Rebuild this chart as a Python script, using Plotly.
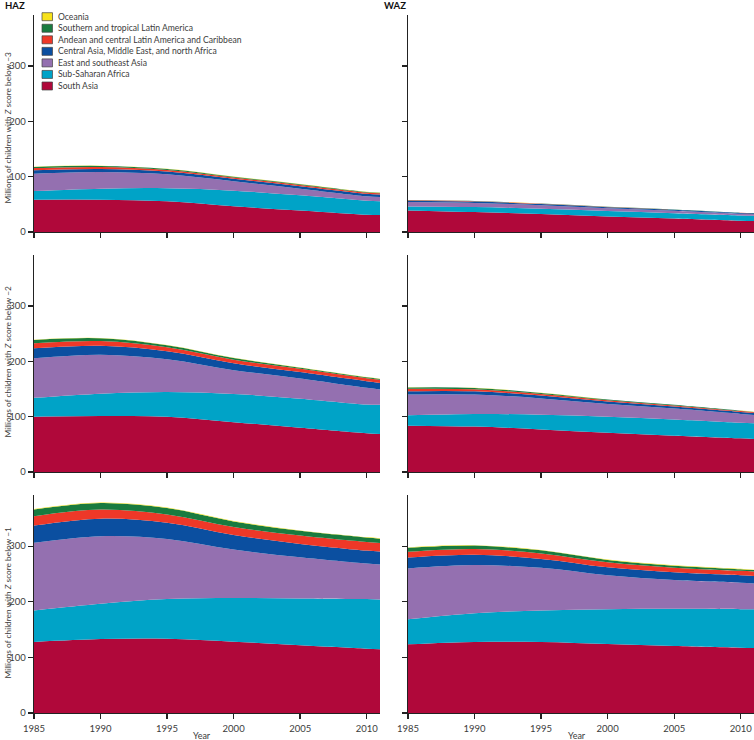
import plotly.graph_objects as go

YEARS = [1985, 1990, 1995, 2000, 2005, 2010, 2011]

REGIONS = [
    "South Asia",
    "Sub-Saharan Africa",
    "East and southeast Asia",
    "Central Asia, Middle East, and north Africa",
    "Andean and central Latin America and Caribbean",
    "Southern and tropical Latin America",
    "Oceania",
]
COLORS = ["#B0083A", "#00A3C7", "#9470B0", "#0B4FA0", "#EE3828", "#197B3F", "#F7E21B"]

# Millions of children, by region (stacking order bottom -> top)
haz_below3 = {
    "South Asia": [58.4, 58.4, 55.4, 46.4, 39.0, 31.3, 30.7],
    "Sub-Saharan Africa": [15.6, 19.9, 23.6, 28.3, 27.3, 25.3, 24.7],
    "East and southeast Asia": [31.4, 30.1, 25.2, 16.9, 12.0, 7.9, 7.9],
    "Central Asia, Middle East, and north Africa": [6.0, 5.5, 5.0, 4.5, 4.5, 4.5, 4.4],
    "Andean and central Latin America and Caribbean": [4.0, 3.6, 3.0, 2.5, 2.3, 2.3, 2.3],
    "Southern and tropical Latin America": [2.2, 1.9, 1.7, 1.3, 1.2, 1.1, 1.1],
    "Oceania": [0.4, 0.4, 0.3, 0.3, 0.3, 0.2, 0.2],
}
waz_below3 = {
    "South Asia": [39.0, 36.0, 32.5, 28.0, 24.5, 20.5, 20.0],
    "Sub-Saharan Africa": [7.0, 9.0, 9.5, 10.0, 9.5, 9.5, 9.5],
    "East and southeast Asia": [8.0, 7.5, 6.5, 5.0, 4.5, 3.0, 3.0],
    "Central Asia, Middle East, and north Africa": [2.5, 2.5, 2.0, 1.8, 1.5, 1.3, 1.2],
    "Andean and central Latin America and Caribbean": [0.7, 0.6, 0.5, 0.4, 0.3, 0.3, 0.3],
    "Southern and tropical Latin America": [0.4, 0.4, 0.3, 0.3, 0.3, 0.2, 0.2],
    "Oceania": [0.1, 0.1, 0.1, 0.1, 0.1, 0.1, 0.1],
}
haz_below2 = {
    "South Asia": [100.0, 101.0, 100.0, 90.0, 80.0, 70.0, 68.7],
    "Sub-Saharan Africa": [34.0, 40.5, 44.6, 51.0, 52.5, 52.0, 53.0],
    "East and southeast Asia": [71.4, 70.5, 59.0, 43.0, 36.5, 30.0, 27.3],
    "Central Asia, Middle East, and north Africa": [18.0, 16.0, 14.5, 12.5, 11.5, 12.0, 12.0],
    "Andean and central Latin America and Caribbean": [9.0, 8.5, 7.2, 6.5, 6.0, 5.5, 5.5],
    "Southern and tropical Latin America": [6.0, 5.0, 3.5, 2.8, 2.0, 1.7, 1.5],
    "Oceania": [0.5, 0.5, 0.5, 0.4, 0.4, 0.4, 0.4],
}
waz_below2 = {
    "South Asia": [83.7, 82.0, 77.0, 71.0, 65.7, 60.8, 59.6],
    "Sub-Saharan Africa": [18.7, 22.8, 26.6, 29.0, 29.3, 28.2, 28.4],
    "East and southeast Asia": [37.6, 35.2, 29.4, 23.0, 19.5, 16.0, 15.0],
    "Central Asia, Middle East, and north Africa": [6.0, 5.8, 5.0, 4.2, 3.8, 3.6, 3.6],
    "Andean and central Latin America and Caribbean": [4.2, 3.6, 3.0, 2.5, 2.0, 1.5, 1.4],
    "Southern and tropical Latin America": [2.4, 2.4, 1.8, 1.2, 1.0, 0.6, 0.6],
    "Oceania": [0.3, 0.3, 0.3, 0.2, 0.2, 0.2, 0.2],
}
haz_below1 = {
    "South Asia": [127.7, 133.0, 133.7, 128.3, 121.7, 115.7, 114.5],
    "Sub-Saharan Africa": [56.6, 63.4, 71.1, 78.3, 84.3, 89.1, 89.7],
    "East and southeast Asia": [121.7, 121.6, 108.2, 87.4, 74.0, 63.9, 62.8],
    "Central Asia, Middle East, and north Africa": [31.0, 31.4, 29.0, 26.0, 24.0, 23.3, 23.4],
    "Andean and central Latin America and Caribbean": [17.0, 16.6, 15.0, 14.5, 15.0, 15.5, 15.5],
    "Southern and tropical Latin America": [12.0, 11.7, 11.5, 10.0, 8.5, 8.0, 7.5],
    "Oceania": [1.0, 1.0, 1.0, 0.8, 0.8, 0.8, 0.8],
}
waz_below1 = {
    "South Asia": [123.5, 127.7, 127.7, 124.0, 120.5, 117.5, 117.0],
    "Sub-Saharan Africa": [45.2, 51.8, 56.6, 62.7, 66.8, 69.2, 69.7],
    "East and southeast Asia": [91.3, 86.5, 76.7, 60.9, 51.7, 47.6, 46.3],
    "Central Asia, Middle East, and north Africa": [19.5, 18.5, 16.0, 14.4, 14.0, 13.3, 13.4],
    "Andean and central Latin America and Caribbean": [10.5, 10.5, 10.0, 9.0, 8.4, 8.0, 8.0],
    "Southern and tropical Latin America": [7.0, 6.0, 5.5, 4.3, 3.6, 3.0, 2.6],
    "Oceania": [0.8, 0.8, 0.8, 0.7, 0.7, 0.7, 0.7],
}

Y_TICKS = [0, 100, 200, 300]
X_TICKS = [1985, 1990, 1995, 2000, 2005, 2010]
THRESHOLDS = ["−3", "−2", "−1"]

panels = [
    (haz_below3, 1, 1), (waz_below3, 1, 2),
    (haz_below2, 2, 1), (waz_below2, 2, 2),
    (haz_below1, 3, 1), (waz_below1, 3, 2),
]

# layout geometry (pixels)
W, H = 754, 740
ML, MR, MT, MB = 34, 0, 15, 27
PW, PH = W - ML - MR, H - MT - MB
xdom = {1: [0, 346 / PW], 2: [374 / PW, 1]}
ydom = {1: [(713 - 232) / PH, 1], 2: [(713 - 472) / PH, (713 - 255) / PH], 3: [0, (713 - 495) / PH]}

def px_x(p):
    return (p - ML) / PW

def px_y(p):
    return (H - MB - p) / PH

FONT = "Lato, 'Noto Sans', sans-serif"
TXT = "#3c3c3c"
AX = "#222222"

fig = go.Figure()
layout = {}
for data, row, col in panels:
    i = (row - 1) * 2 + col
    xa = "x" if i == 1 else f"x{i}"
    ya = "y" if i == 1 else f"y{i}"
    for name, color in zip(REGIONS, COLORS):
        fig.add_trace(go.Scatter(
            x=YEARS, y=data[name], name=name, xaxis=xa, yaxis=ya,
            stackgroup=f"g{i}", mode="lines",
            line=dict(width=0, shape="spline", smoothing=1.0, color=color),
            fillcolor=color, showlegend=False, hoverinfo="skip",
        ))
    layout[f"xaxis{'' if i == 1 else i}"] = dict(
        domain=xdom[col], anchor=ya, range=[1985, 2011],
        tickvals=X_TICKS, showticklabels=(row == 3),
        showline=True, linecolor=AX, linewidth=1.4,
        ticks="outside", ticklen=5, tickwidth=1.3, tickcolor=AX,
        ticklabelstandoff=1,
        showgrid=False, zeroline=False,
        tickfont=dict(family=FONT, size=9.5, color=TXT),
    )
    layout[f"yaxis{'' if i == 1 else i}"] = dict(
        domain=ydom[row], anchor=xa, range=[0, 392],
        tickvals=Y_TICKS, showticklabels=(col == 1),
        showline=True, linecolor=AX, linewidth=1.4,
        ticks="outside", ticklen=5, tickwidth=1.3, tickcolor=AX,
        showgrid=False, zeroline=False,
        tickfont=dict(family=FONT, size=9.5, color=TXT),
    )

annotations = []
shapes = []
# panel headers
annotations.append(dict(text="<b>HAZ</b>", x=px_x(3), y=px_y(5), xref="paper", yref="paper",
                        xanchor="left", yanchor="middle", showarrow=False,
                        font=dict(family=FONT, size=9.5, color="#111")))
annotations.append(dict(text="<b>WAZ</b>", x=px_x(382), y=px_y(5), xref="paper", yref="paper",
                        xanchor="left", yanchor="middle", showarrow=False,
                        font=dict(family=FONT, size=9.5, color="#111")))
# y titles
for row, thr, cy in [(1, THRESHOLDS[0], 128), (2, THRESHOLDS[1], 362), (3, THRESHOLDS[2], 603)]:
    annotations.append(dict(text=f"Millions of children with <i>Z</i> score below {thr}",
                            x=px_x(7.5), y=px_y(cy), xref="paper", yref="paper",
                            xanchor="center", yanchor="middle", textangle=-90, showarrow=False,
                            font=dict(family=FONT, size=8.3, color=TXT)))
# x titles
for cx in [202, 577]:
    annotations.append(dict(text="Year", x=px_x(cx), y=px_y(735.5), xref="paper", yref="paper",
                            xanchor="center", yanchor="middle", showarrow=False,
                            font=dict(family=FONT, size=9, color=TXT)))
# manual legend (top-first order)
for k, (name, color) in enumerate(zip(REGIONS[::-1], COLORS[::-1])):
    cy = 16.7 + 11.55 * k
    shapes.append(dict(type="rect", xref="paper", yref="paper",
                       x0=px_x(42), x1=px_x(52.5), y0=px_y(cy + 4), y1=px_y(cy - 4),
                       fillcolor=color, line=dict(color="#444", width=0.7)))
    annotations.append(dict(text=name, x=px_x(56), y=px_y(cy), xref="paper", yref="paper",
                            xanchor="left", yanchor="middle", showarrow=False,
                            font=dict(family=FONT, size=8.6, color=TXT)))

fig.update_layout(
    width=W, height=H,
    margin=dict(l=ML, r=MR, t=MT, b=MB, pad=0),
    paper_bgcolor="white", plot_bgcolor="white",
    showlegend=False,
    annotations=annotations, shapes=shapes,
    **layout,
)
fig.write_html(
    "out.html",
    config={"displayModeBar": False, "staticPlot": True},
    post_script="document.body.style.margin='0';document.body.style.overflow='hidden';",
)
